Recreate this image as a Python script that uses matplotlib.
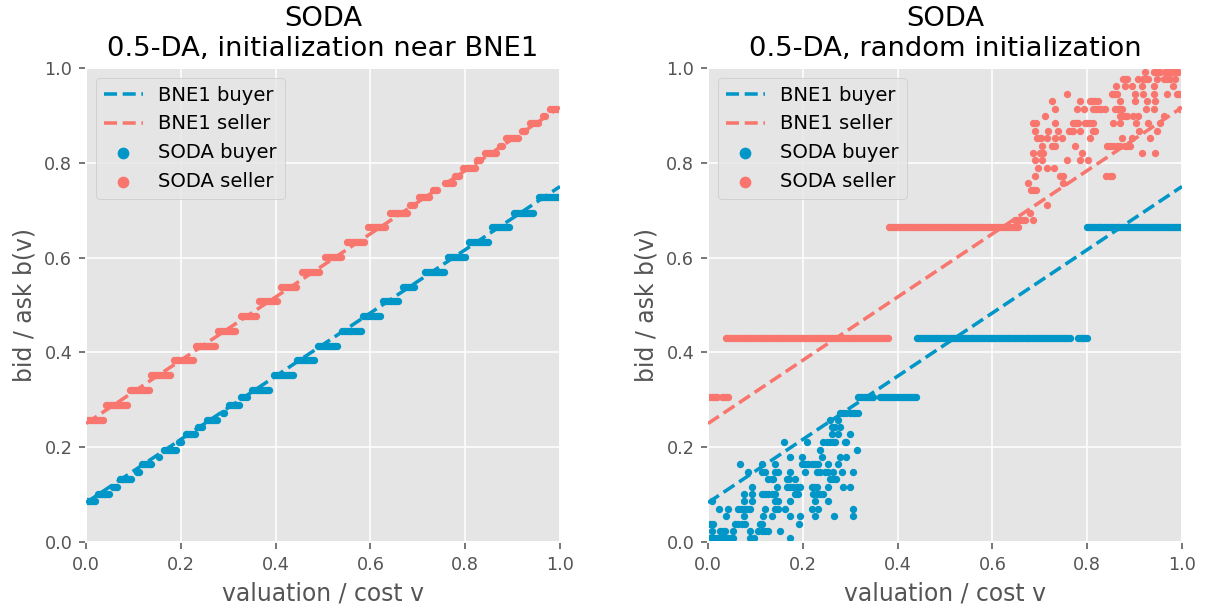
import numpy as np
import matplotlib
matplotlib.use("Agg")
import matplotlib.pyplot as plt

plt.style.use("ggplot")

BLUE = "#0096C7"
RED = "#F8766D"

# BNE1 of the 0.5-double auction (linear strategies), end points at v=0 and v=1
bne_v = [0.0, 1.0]
bne_buyer = [0.083, 0.750]
bne_seller = [0.250, 0.917]

# ---- left panel: SODA strategies, initialised near BNE1 (piecewise constant) ----
# each constant piece: start valuation, end valuation, bid
near_buyer_start = [0.000, 0.025, 0.058, 0.071, 0.108, 0.118, 0.155, 0.165, 0.196, 0.210, 0.237, 0.256,
                    0.288, 0.302, 0.328, 0.350, 0.396, 0.445, 0.490, 0.540, 0.585, 0.627, 0.668,
                    0.716, 0.764, 0.808, 0.857, 0.903, 0.955]
near_buyer_end = [0.020, 0.052, 0.066, 0.097, 0.112, 0.140, 0.158, 0.190, 0.203, 0.232, 0.245, 0.277,
                  0.295, 0.325, 0.340, 0.388, 0.436, 0.482, 0.532, 0.580, 0.622, 0.660, 0.692,
                  0.756, 0.803, 0.850, 0.896, 0.945, 0.995]
near_buyer_bid = [0.086, 0.102, 0.117, 0.133, 0.148, 0.164, 0.180, 0.195, 0.211, 0.227, 0.242, 0.258,
                  0.273, 0.289, 0.305, 0.320, 0.352, 0.383, 0.414, 0.445, 0.477, 0.508, 0.539,
                  0.570, 0.602, 0.633, 0.664, 0.695, 0.727]

near_seller_start = [0.000, 0.042, 0.092, 0.138, 0.186, 0.232, 0.279, 0.326, 0.366, 0.412, 0.455,
                     0.505, 0.550, 0.595, 0.641, 0.684, 0.703, 0.733, 0.758, 0.778, 0.796, 0.824,
                     0.842, 0.873, 0.887, 0.919, 0.937, 0.965, 0.979]
near_seller_end = [0.038, 0.086, 0.133, 0.180, 0.226, 0.272, 0.318, 0.360, 0.402, 0.444, 0.494,
                   0.539, 0.589, 0.634, 0.679, 0.694, 0.726, 0.744, 0.775, 0.789, 0.821, 0.835,
                   0.866, 0.880, 0.912, 0.930, 0.955, 0.972, 1.000]
near_seller_bid = [0.258, 0.289, 0.320, 0.352, 0.383, 0.414, 0.445, 0.477, 0.508, 0.539, 0.570,
                   0.602, 0.633, 0.664, 0.695, 0.711, 0.727, 0.742, 0.758, 0.773, 0.789, 0.805,
                   0.820, 0.836, 0.852, 0.867, 0.883, 0.898, 0.914]

# ---- right panel: SODA strategies, random initialisation ----
rand_buyer_start = [0.317, 0.363, 0.440, 0.780, 0.800]
rand_buyer_end = [0.349, 0.441, 0.764, 0.801, 0.996]
rand_buyer_bid = [0.305, 0.305, 0.430, 0.430, 0.664]

rand_seller_start = [0.004, 0.030, 0.039, 0.382]
rand_seller_end = [0.020, 0.043, 0.382, 0.655]
rand_seller_bid = [0.305, 0.305, 0.430, 0.664]

# mixed part of the buyer strategy (low valuations)
rand_buyer_v = [
    0.003, 0.008, 0.013, 0.019, 0.024, 0.030, 0.036, 0.042, 0.048, 0.053, 0.088, 0.096, 0.173,
    0.008, 0.025, 0.031, 0.036, 0.053, 0.089, 0.106, 0.113, 0.120, 0.127, 0.151,
    0.004, 0.011, 0.057, 0.064, 0.071, 0.078, 0.110, 0.113, 0.192,
    0.039, 0.075, 0.117, 0.134, 0.172, 0.194, 0.226, 0.265, 0.306,
    0.024, 0.043, 0.064, 0.070, 0.076, 0.082, 0.088, 0.120, 0.141, 0.148, 0.163, 0.219, 0.233, 0.306,
    0.008, 0.075, 0.092, 0.141, 0.148, 0.173, 0.226, 0.254,
    0.075, 0.092, 0.113, 0.120, 0.127, 0.134, 0.141, 0.183, 0.190, 0.222, 0.229, 0.236, 0.243,
    0.092, 0.145, 0.166, 0.173, 0.180, 0.187, 0.194, 0.219, 0.224, 0.229, 0.254, 0.285, 0.299,
    0.127, 0.134, 0.138, 0.166, 0.170, 0.183, 0.257, 0.264, 0.271,
    0.085, 0.113, 0.120, 0.141, 0.148, 0.173, 0.205, 0.229, 0.236, 0.247, 0.254, 0.264, 0.282, 0.306,
    0.068, 0.113, 0.141, 0.198, 0.205, 0.212, 0.219, 0.226, 0.233, 0.254, 0.275,
    0.173, 0.198, 0.240, 0.278, 0.292,
    0.236, 0.314,
    0.160, 0.208, 0.243, 0.250, 0.257, 0.264, 0.268, 0.289, 0.292,
    0.261, 0.275, 0.300,
    0.261, 0.268, 0.278,
    0.257, 0.275,
    0.278, 0.285, 0.292, 0.299, 0.306, 0.311, 0.316,
]
rand_buyer_b = (
    [0.008] * 13 + [0.023] * 11 + [0.039] * 9 + [0.055] * 9 + [0.070] * 14 + [0.086] * 8
    + [0.102] * 13 + [0.117] * 13 + [0.133] * 9 + [0.148] * 14 + [0.164] * 11 + [0.180] * 5
    + [0.195] * 2 + [0.211] * 9 + [0.227] * 3 + [0.242] * 3 + [0.258] * 2 + [0.273] * 7
)

# mixed part of the seller strategy (high costs)
rand_seller_v = [
    0.922, 0.940, 0.947, 0.954, 0.964, 0.968, 0.975, 0.980, 0.985, 0.989, 0.992,
    0.876, 0.880, 0.883, 0.908, 0.918, 0.922, 0.929, 0.947, 0.961, 0.968, 0.975, 0.985,
    0.861, 0.880, 0.894, 0.915, 0.940, 0.980,
    0.758, 0.852, 0.855, 0.859, 0.862, 0.901, 0.918, 0.940, 0.968, 0.989, 0.992, 0.996,
    0.726, 0.785, 0.806, 0.810, 0.813, 0.816, 0.823, 0.869, 0.901, 0.927, 0.943,
    0.732, 0.778, 0.793, 0.813, 0.818, 0.823, 0.830, 0.838, 0.859, 0.862, 0.866, 0.869, 0.873,
    0.925, 0.941, 0.996,
    0.711, 0.869, 0.873, 0.880, 0.883, 0.897, 0.908, 0.961,
    0.686, 0.691, 0.732, 0.771, 0.774, 0.778, 0.781, 0.795, 0.800, 0.806, 0.813, 0.855, 0.869,
    0.904, 0.929, 0.954,
    0.690, 0.718, 0.739, 0.762, 0.767, 0.771, 0.785, 0.813, 0.816, 0.909, 0.947,
    0.695, 0.700, 0.702, 0.715, 0.732, 0.746, 0.806, 0.873, 0.894, 0.932,
    0.704, 0.725, 0.732, 0.774, 0.841, 0.848, 0.855, 0.862, 0.869, 0.880, 0.885, 0.890,
    0.685, 0.700, 0.706, 0.790, 0.916, 0.943,
    0.690, 0.704, 0.757, 0.785, 0.802,
    0.697, 0.715, 0.729,
    0.690, 0.743, 0.748, 0.840, 0.848, 0.852,
    0.676, 0.748,
    0.681, 0.686, 0.691,
    0.715,
    0.679,
    0.648, 0.651, 0.655, 0.658, 0.662, 0.669, 0.686,
]
rand_seller_b = (
    [0.992] * 11 + [0.977] * 12 + [0.961] * 6 + [0.945] * 12 + [0.930] * 11 + [0.914] * 16
    + [0.898] * 8 + [0.883] * 16 + [0.867] * 11 + [0.852] * 10 + [0.836] * 12 + [0.820] * 6
    + [0.805] * 5 + [0.789] * 3 + [0.773] * 6 + [0.758] * 2 + [0.742] * 3 + [0.711] * 1
    + [0.695] * 1 + [0.680] * 7
)

STEP = 0.004  # spacing of plotted valuations inside a constant piece


def pieces_to_points(starts, ends, bids):
    xs, ys = [], []
    for a, b, y in zip(starts, ends, bids):
        v = np.arange(a, b + 1e-9, STEP)
        if len(v) == 0:
            v = np.array([a])
        xs.append(v)
        ys.append(np.full(len(v), y))
    return np.concatenate(xs), np.concatenate(ys)


fig = plt.figure(figsize=(1205 / 141, 608 / 141), dpi=141)
ax1 = fig.add_axes([86 / 1205, 66 / 608, 474 / 1205, 474 / 608])
ax2 = fig.add_axes([708 / 1205, 66 / 608, 474 / 1205, 474 / 608])

MS = 14

panels = [
    (ax1, "SODA\n0.5-DA, initialization near BNE1",
     pieces_to_points(near_buyer_start, near_buyer_end, near_buyer_bid),
     pieces_to_points(near_seller_start, near_seller_end, near_seller_bid), None, None),
    (ax2, "SODA\n0.5-DA, random initialization",
     pieces_to_points(rand_buyer_start, rand_buyer_end, rand_buyer_bid),
     pieces_to_points(rand_seller_start, rand_seller_end, rand_seller_bid),
     (rand_buyer_v, rand_buyer_b), (rand_seller_v, rand_seller_b)),
]

for ax, title, (bx, by), (sx, sy), bmix, smix in panels:
    ax.plot(bne_v, bne_buyer, "--", color=BLUE, lw=1.8, label="BNE1 buyer", zorder=3)
    ax.plot(bne_v, bne_seller, "--", color=RED, lw=1.8, label="BNE1 seller", zorder=3)
    if bmix is not None:
        bx = np.concatenate([bx, bmix[0]])
        by = np.concatenate([by, bmix[1]])
        sx = np.concatenate([sx, smix[0]])
        sy = np.concatenate([sy, smix[1]])
    ax.scatter(bx, by, s=MS, color=BLUE, label="SODA buyer", zorder=2, linewidths=0)
    ax.scatter(sx, sy, s=MS, color=RED, label="SODA seller", zorder=2, linewidths=0)
    ax.set_xlim(0, 1)
    ax.set_ylim(0, 1)
    ax.set_xticks(np.arange(0, 1.01, 0.2))
    ax.set_yticks(np.arange(0, 1.01, 0.2))
    ax.tick_params(labelsize=9)
    ax.set_xlabel("valuation / cost v", fontsize=12)
    ax.set_ylabel("bid / ask b(v)", fontsize=12)
    ax.set_title(title, fontsize=14, color="black")
    ax.legend(loc="upper left", fontsize=10, markerscale=1.6)

fig.savefig("out.png", dpi=141)
